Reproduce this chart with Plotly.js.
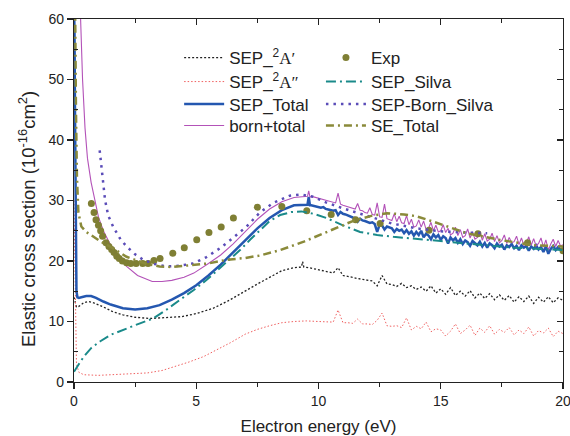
<!DOCTYPE html>
<html>
<head>
<meta charset="utf-8">
<script src="https://cdn.plot.ly/plotly-3.0.1.min.js"></script>
<style>html,body{margin:0;padding:0;background:#fff}#chart{width:570px;height:436px}</style>
</head>
<body>
<div id="chart"></div>
<script>
// ---- SEP_2A' (black dotted)
const eA1 = [0,0.05,0.1,0.2,0.4,0.6,0.8,1.2,1.6,2.0,2.5,3.1,3.7,4.4,5.0,5.7,6.3,7.0,7.5,8.0,8.5,9.0,9.3,9.35,9.4,9.6,
  10.0,10.2,10.4,10.6,10.8,11.0,11.2,11.4,11.6,11.8,12.0,12.2,12.4,12.6,12.8,13.0,13.2,13.4,13.6,13.8,14.0,14.2,14.4,14.6,14.8,15.0,15.2,15.4,15.6,15.8,16.0,16.2,16.4,16.6,16.8,17.0,17.2,17.4,17.6,17.8,18.0,18.2,18.4,18.6,18.8,19.0,19.2,19.4,19.6,19.8,20.0];
const sA1 = [14,13,12.4,12.5,13.1,13.3,13.1,12.4,11.6,11.1,10.7,10.5,10.6,10.8,11.3,12.2,13.4,15.1,16.2,17.3,18.4,18.9,19.0,19.9,19.0,18.9,
  18.6,18.4,18.2,18.0,18.9,17.6,17.5,17.3,17.1,17.0,16.8,16.7,15.9,17.6,16.2,16.1,15.8,16.3,15.6,15.9,15.3,15.7,15.0,15.9,14.7,15.4,14.5,15.6,14.3,15.0,14.2,15.1,13.9,14.7,13.8,14.6,13.6,14.4,13.5,14.3,13.2,14.1,13.3,14.2,13.0,14.0,13.2,14.1,13.1,13.9,13.5];

// ---- SEP_2A'' (red dotted)
const eA2 = [0,0.03,0.06,0.1,0.2,0.4,1.0,1.6,2.2,3.0,3.6,4.1,4.7,5.3,5.9,6.4,7.0,7.5,8.0,8.5,9.0,9.5,
  10.0,10.2,10.4,10.6,10.8,11.0,11.2,11.4,11.6,11.8,12.0,12.2,12.4,12.6,12.8,13.0,13.2,13.4,13.6,13.8,14.0,14.2,14.4,14.6,14.8,15.0,15.2,15.4,15.6,15.8,16.0,16.2,16.4,16.6,16.8,17.0,17.2,17.4,17.6,17.8,18.0,18.2,18.4,18.6,18.8,19.0,19.2,19.4,19.6,19.8,20.0];
const sA2 = [30,20,8,3,1.6,1.2,1.1,1.2,1.3,1.5,1.9,2.5,3.3,4.2,5.4,6.5,7.9,8.7,9.3,9.8,10.0,10.1,
  10.0,10.0,10.0,9.9,11.9,9.8,9.8,9.7,10.4,9.6,9.6,9.5,10.2,11.4,9.3,9.2,9.3,9.0,10.6,8.6,9.2,8.8,9.9,8.3,8.8,8.6,7.6,8.4,9.6,8.0,8.6,9.4,7.7,8.9,8.2,9.3,7.9,8.7,8.2,9.0,7.8,8.6,8.0,9.1,7.6,8.5,8.1,8.9,7.5,8.4,8.0];

// ---- SEP_Total (blue solid)
const eTot = [0,0.02,0.04,0.06,0.08,0.1,0.14,0.2,0.3,0.5,0.7,0.9,1.2,1.5,2.0,2.5,3.0,3.5,4.0,4.5,5.0,5.5,6.0,6.5,7.0,7.5,8.0,8.5,9.0,9.5,9.55,9.6,9.65,9.7,9.8,9.9,
  10.0,10.1,10.2,10.3,10.4,10.5,10.6,10.7,10.8,10.9,11.0,11.1,11.2,11.3,11.4,11.5,11.6,11.7,11.8,11.9,12.0,12.1,12.2,12.3,12.4,12.5,12.6,12.7,12.8,12.9,13.0,13.1,13.2,13.3,13.4,13.5,13.6,13.7,13.8,13.9,14.0,14.1,14.2,14.3,14.4,14.5,14.6,14.7,14.8,14.9,15.0,15.1,15.2,15.3,15.4,15.5,15.6,15.7,15.8,15.9,16.0,16.1,16.2,16.3,16.4,16.5,16.6,16.7,16.8,16.9,17.0,17.1,17.2,17.3,17.4,17.5,17.6,17.7,17.8,17.9,18.0,18.1,18.2,18.3,18.4,18.5,18.6,18.7,18.8,18.9,19.0,19.1,19.2,19.3,19.4,19.5,19.6,19.7,19.8,19.9,20.0];
const sTot = [62,58,45,30,19,15,14.0,13.9,14.0,14.2,14.2,13.9,13.3,12.8,12.2,12.0,12.2,12.7,13.6,14.7,16.0,17.6,19.4,21.4,23.4,25.4,27.1,28.4,29.2,29.3,29.3,30.6,29.2,29.2,29.1,29.0,
  28.9,28.8,28.9,28.6,28.5,28.4,28.3,28.4,27.6,28.1,27.8,27.7,27.5,27.4,27.2,27.1,26.5,27.0,26.7,26.6,26.5,26.3,26.4,26.1,24.8,26.0,25.9,25.2,25.7,25.5,25.4,24.8,25.3,25.0,25.2,24.6,25.1,24.5,24.9,24.2,24.8,24.3,25.0,23.9,24.5,24.2,23.6,24.4,23.9,24.3,23.5,24.1,23.8,22.9,23.9,23.4,23.8,23.0,23.6,22.8,23.4,23.1,22.5,23.3,22.9,22.6,23.2,22.4,23.0,22.2,22.9,22.6,22.1,22.9,22.4,22.7,21.9,22.6,22.3,22.8,22.1,22.5,21.8,22.6,22.2,22.5,21.7,22.4,22.0,22.6,21.9,22.3,21.5,22.4,21.2,22.0,22.5,21.8,22.3,21.9,22.1];

// ---- born+total (magenta thin)
const eBorn = [0.27,0.35,0.45,0.55,0.7,0.85,1.0,1.2,1.5,1.8,2.15,2.6,3.2,3.6,4.0,4.5,4.9,5.5,6.0,6.5,7.0,7.5,8.0,8.5,9.0,9.4,9.55,9.6,9.65,9.8,
  10.0,10.1,10.2,10.3,10.4,10.5,10.6,10.7,10.8,10.9,11.0,11.1,11.2,11.3,11.4,11.5,11.6,11.7,11.8,11.9,12.0,12.1,12.2,12.3,12.4,12.5,12.6,12.7,12.8,12.9,13.0,13.1,13.2,13.3,13.4,13.5,13.6,13.7,13.8,13.9,14.0,14.1,14.2,14.3,14.4,14.5,14.6,14.7,14.8,14.9,15.0,15.1,15.2,15.3,15.4,15.5,15.6,15.7,15.8,15.9,16.0,16.1,16.2,16.3,16.4,16.5,16.6,16.7,16.8,16.9,17.0,17.1,17.2,17.3,17.4,17.5,17.6,17.7,17.8,17.9,18.0,18.1,18.2,18.3,18.4,18.5,18.6,18.7,18.8,18.9,19.0,19.1,19.2,19.3,19.4,19.5,19.6,19.7,19.8,19.9,20.0];
const sBorn = [60,50,42,37,33,30,27.3,25,22.6,20.7,19.1,17.6,16.6,16.6,16.8,17.3,18.0,19.6,21.0,22.8,24.8,26.9,28.6,29.8,30.5,30.7,30.7,31.6,30.6,30.6,
  30.4,30.3,30.2,30.1,30.0,29.9,29.8,29.6,31.2,29.4,29.2,29.1,29.0,28.8,28.7,28.6,29.5,28.4,28.3,28.0,27.9,28.8,27.7,27.6,29.6,27.3,27.2,29.4,27.0,26.9,26.7,27.8,26.5,27.4,26.3,26.2,27.5,26.0,26.9,25.6,25.8,26.8,25.6,26.6,25.2,25.4,26.4,25.0,25.9,24.8,25.0,26.0,24.7,25.4,24.3,24.6,25.6,24.2,25.2,23.9,24.2,25.3,23.8,24.8,23.6,23.9,24.9,23.4,24.5,23.3,23.6,24.6,23.2,24.2,23.0,23.4,24.3,22.9,23.9,23.0,23.2,24.1,22.7,23.8,22.6,23.0,24.0,22.6,23.7,22.5,22.9,23.8,22.3,23.5,21.8,22.8,23.6,22.4,23.4,22.5,22.7];

// ---- Exp (olive circles)
const eExp = [0.71,0.82,0.90,1.00,1.09,1.17,1.31,1.43,1.54,1.64,1.75,1.85,1.98,2.15,2.32,2.54,2.81,3.03,3.27,3.52,4.04,4.51,5.02,5.52,6.02,6.52,7.50,8.50,9.52,10.52,11.52,12.52,14.52,16.52,18.55,20.0];
const sExp = [29.5,28.0,26.8,25.9,25.0,24.1,23.0,22.4,21.9,21.4,20.8,20.4,20.0,19.7,19.6,19.6,19.6,19.6,20.1,20.4,21.3,22.2,23.5,24.7,25.6,27.1,28.9,29.0,28.3,27.7,26.8,26.2,25.1,24.5,23.0,21.7];

// ---- SEP_Silva (teal dash-dot)
const eSil = [0,0.2,0.4,0.7,1.06,1.5,2.15,2.7,3.24,3.8,4.34,4.9,5.43,6.1,6.79,7.2,7.6,8.0,8.43,8.9,9.3,9.8,10.33,11.0,11.7,12.4,13.06,14.0,15.0,16.0,17.0,18.0,19.0,20.0];
const sSil = [1.7,3.0,4.2,5.6,6.7,7.8,8.9,9.7,10.5,12.0,13.6,15.2,16.9,19.3,21.8,23.5,25.1,26.6,27.6,28.1,28.2,27.8,27.1,25.9,24.8,24.3,24.0,23.7,23.3,22.9,22.5,22.2,22.0,21.8];

// ---- SEP-Born_Silva (purple dotted)
const eBS = [1.05,1.15,1.27,1.4,1.61,1.9,2.15,2.5,2.83,3.3,3.79,4.3,4.88,5.4,5.97,6.5,7.06,7.6,8.15,8.83,9.3,9.8,10.3,11.0,12.0,13.0,14.0,15.0,16.0,16.9];
const sBS = [38.3,34,30.1,27.5,25.6,23.6,22.4,21.1,20.2,19.5,19.1,19.2,19.6,20.6,22.1,23.8,25.7,28.0,29.6,30.8,31.0,30.6,29.7,28.7,27.4,26.2,25.4,24.9,24.7,24.6];

// ---- SE_Total (olive dashed)
const eSE = [0.02,0.05,0.08,0.12,0.18,0.3,0.5,0.79,1.1,1.47,2.15,2.97,3.5,4.0,4.88,5.5,6.24,7.0,7.6,8.43,9.4,10.33,11.4,12.2,12.8,13.5,14.0,14.7,15.4,16.06,17.4,18.8,20.0];
const sSE = [65,60,45,34,28,25.7,24.8,24.0,23.2,22.4,20.7,19.5,19.1,19.0,19.3,19.6,20.2,20.5,20.9,21.8,23.2,24.8,26.6,27.5,27.9,27.7,27.4,26.5,25.5,24.6,23.5,22.6,22.4];

const FONT = 'Arial, "Liberation Sans", sans-serif';
const SERIF = "'Liberation Serif', 'Times New Roman', serif";

const traces = [
  {x:eA1, y:sA1, name:'SEP_<sup>2</sup><span style="font-family:'+SERIF+'">A′</span>', mode:'lines', line:{color:'#222222', width:1.3, dash:'2px,2px'}, legend:'legend'},
  {x:eA2, y:sA2, name:'SEP_<sup>2</sup><span style="font-family:'+SERIF+'">A″</span>', mode:'lines', line:{color:'#f06060', width:1, dash:'1.5px,2px'}, legend:'legend3'},
  {x:eTot, y:sTot, name:'SEP_Total', mode:'lines', line:{color:'#2457b0', width:2.5}, legend:'legend5'},
  {x:eBorn, y:sBorn, name:'born+total', mode:'lines', line:{color:'#b352b8', width:1.1}, legend:'legend7'},
  {x:eExp, y:sExp, name:'Exp', mode:'markers', marker:{color:'#7f7f34', size:7}, legend:'legend2'},
  {x:eSil, y:sSil, name:'SEP_Silva', mode:'lines', line:{color:'#1a8a8a', width:2, dash:'10px,4px,2px,4px'}, legend:'legend4'},
  {x:eBS, y:sBS, name:'SEP-Born_Silva', mode:'lines', line:{color:'#5a4cb8', width:2.5, dash:'2.5px,5px'}, legend:'legend6'},
  {x:eSE, y:sSE, name:'SE_Total', mode:'lines', line:{color:'#8a8a3a', width:2.5, dash:'8px,4px,2px,4px'}, legend:'legend8'},
  {x:[], y:[], xaxis:'x2', yaxis:'y2', showlegend:false, hoverinfo:'skip'}
];

const axisCommon = {showline:true, linecolor:'#222', linewidth:1.2, showgrid:false, zeroline:false, ticklen:6, tickwidth:1.2, tickcolor:'#222'};

function leg(x, yc) {
  return {x:x, y:yc, xanchor:'left', yanchor:'middle', bgcolor:'rgba(0,0,0,0)', font:{size:17}, itemwidth:40};
}
const rowY = [0.8926, 0.8264, 0.7645, 0.7052];
const colX = [0.215, 0.505];

const layout = {
  width:570, height:436,
  margin:{l:74, r:7, t:19, b:54},
  paper_bgcolor:'#fff', plot_bgcolor:'#fff',
  font:{family:FONT, color:'#222', size:14},
  showlegend:true,
  xaxis: Object.assign({}, axisCommon, {
    range:[0,20], tickvals:[0,5,10,15,20], ticks:'outside', ticklabeloverflow:'allow',
    minor:{tickvals:[2.5,7.5,12.5,17.5], ticks:'outside', ticklen:4, tickcolor:'#222'},
    tickfont:{size:14}, title:{text:'Electron energy (eV)', font:{size:17}, standoff:15}
  }),
  yaxis: Object.assign({}, axisCommon, {
    range:[0,60], tickvals:[0,10,20,30,40,50,60], ticks:'outside', ticklabeloverflow:'allow',
    minor:{tickvals:[5,15,25,35,45,55], ticks:'inside', ticklen:4, tickcolor:'#222'},
    tickfont:{size:14}
  }),
  xaxis2: Object.assign({}, axisCommon, {
    overlaying:'x', side:'top', anchor:'y2', range:[0,20], tickvals:[0,5,10,15,20], ticks:'inside', showticklabels:false,
    minor:{tickvals:[2.5,7.5,12.5,17.5], ticks:'inside', ticklen:4, tickcolor:'#222'}
  }),
  yaxis2: Object.assign({}, axisCommon, {
    overlaying:'y', side:'right', anchor:'x2', range:[0,60], tickvals:[0,10,20,30,40,50,60], ticks:'inside', showticklabels:false,
    minor:{tickvals:[5,15,25,35,45,55], ticks:'inside', ticklen:4, tickcolor:'#222'}
  }),
  legend:  leg(colX[0], rowY[0]),
  legend2: leg(colX[1], rowY[0]),
  legend3: leg(colX[0], rowY[1]),
  legend4: leg(colX[1], rowY[1]),
  legend5: leg(colX[0], rowY[2]),
  legend6: leg(colX[1], rowY[2]),
  legend7: leg(colX[0], rowY[3]),
  legend8: leg(colX[1], rowY[3]),
  annotations: [{
    text:'Elastic cross section (10<sup>-16</sup>cm<sup>2</sup>)', textangle:-90,
    xref:'paper', yref:'paper', x:-0.0961, y:0.449, xanchor:'center', yanchor:'middle',
    showarrow:false, font:{size:18.5, family:FONT, color:'#222'}
  }]
};

Plotly.newPlot('chart', traces, layout, {displayModeBar:false, staticPlot:true});
</script>
</body>
</html>
